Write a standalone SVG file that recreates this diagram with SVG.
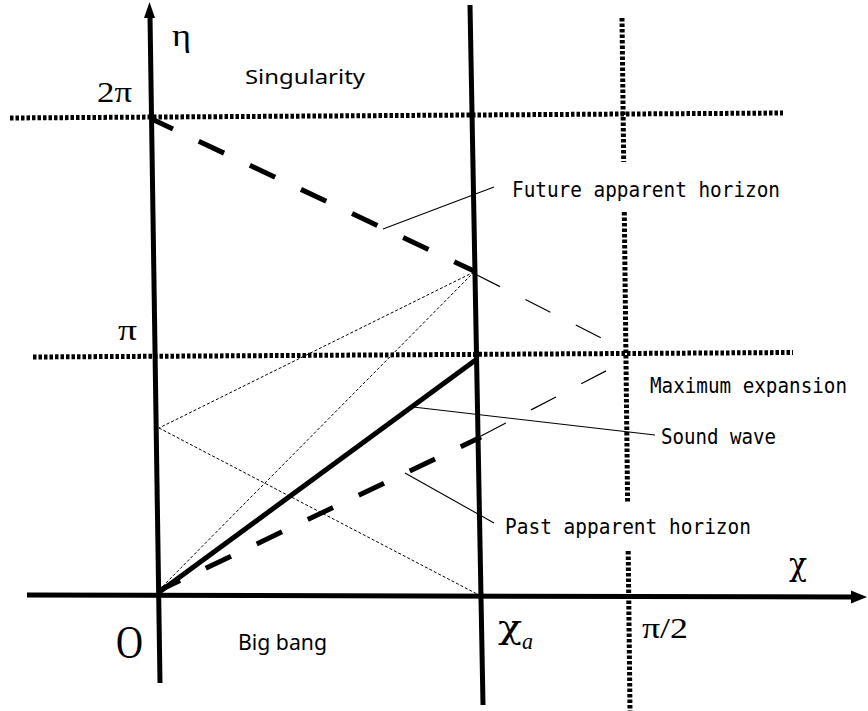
<svg xmlns="http://www.w3.org/2000/svg" width="868" height="711" viewBox="0 0 868 711">
<style>
.axis{stroke:#000;stroke-width:5;fill:none}
.dot{stroke:#000;stroke-width:5;stroke-dasharray:3.5 2;fill:none}
.thickdash{stroke:#000;stroke-width:5;stroke-dasharray:28 28.5;fill:none}
.thindash{stroke:#000;stroke-width:1.2;stroke-dasharray:28 28.5;fill:none}
.ray{stroke:#000;stroke-width:1;stroke-dasharray:3 2;fill:none}
.lead{stroke:#000;stroke-width:1.1;fill:none}
.solid{stroke:#000;stroke-width:5;fill:none}
.mono{font-family:'DejaVu Sans Mono','Liberation Mono',monospace;font-size:20.5px;fill:#000}
.sans{font-family:'Noto Sans','DejaVu Sans',sans-serif;fill:#000}
.serif{font-family:'Liberation Serif','Times New Roman',serif;fill:#000}
.greek{font-family:'DejaVu Serif',serif;fill:#000}
</style>
<rect width="868" height="711" fill="#fff"/>
<g id="grid">
<path class="dot" d="M10,118 L783,113"/>
<path class="dot" d="M33,357 L793,352.5"/>
<path class="dot" d="M622,18 L623.7,162"/>
<path class="dot" d="M624.3,212 L627.6,502"/>
<path class="dot" d="M628.2,551 L630,711"/>
</g>
<g id="axes">
<path class="axis" d="M160,683 L150,16"/>
<polygon points="149.5,2 144,18 155,18" fill="#000"/>
<path class="axis" d="M27,595 L853,597"/>
<polygon points="867,597 851,590.5 851,603.5" fill="#000"/>
<path class="axis" d="M470,5 L483,705"/>
</g>
<g id="connectors">
<path class="ray" d="M159,590 L474,272"/>
<path class="ray" d="M474,272 L159,428"/>
<path class="ray" d="M159,428 L479,595"/>
<path class="thickdash" style="stroke-dashoffset:4.5" d="M151.7,119 L474,271"/>
<path class="thindash" d="M475,274 L625,350"/>
<path class="thickdash" style="stroke-dashoffset:3.6" d="M158,591 L481,437"/>
<path class="thindash" d="M481,436 L625,361"/>
<path class="solid" d="M158,593 L477,359"/>
<path class="lead" d="M383,229 L494,187"/>
<path class="lead" d="M413,407 L655,435"/>
<path class="lead" d="M405,473 L494,523"/>
</g>
<g id="labels">
<text class="sans" x="245" y="83.5" font-size="20" textLength="120" lengthAdjust="spacingAndGlyphs">Singularity</text>
<text class="sans" x="238" y="650" font-size="22" textLength="89" lengthAdjust="spacingAndGlyphs">Big bang</text>
<text class="mono" x="512" y="196.5" textLength="268" lengthAdjust="spacingAndGlyphs">Future apparent horizon</text>
<text class="mono" x="650" y="392.5" textLength="197" lengthAdjust="spacingAndGlyphs">Maximum expansion</text>
<text class="mono" x="661" y="444" textLength="115" lengthAdjust="spacingAndGlyphs">Sound wave</text>
<text class="mono" x="505" y="534" textLength="246" lengthAdjust="spacingAndGlyphs">Past apparent horizon</text>
<text class="serif" x="172" y="46" font-size="32" textLength="19" lengthAdjust="spacingAndGlyphs">η</text>
<text class="serif" x="97" y="101.5" font-size="30" textLength="35" lengthAdjust="spacingAndGlyphs">2π</text>
<text class="serif" x="118" y="340" font-size="30" textLength="19" lengthAdjust="spacingAndGlyphs">π</text>
<text class="serif" x="116" y="658" font-size="46" textLength="27" lengthAdjust="spacingAndGlyphs">O</text>
<text class="greek" x="789" y="575" font-size="32" textLength="18" lengthAdjust="spacingAndGlyphs">χ</text>
<text class="greek" x="498" y="638" font-size="32" textLength="24" lengthAdjust="spacingAndGlyphs">χ</text>
<text class="serif" x="522" y="649" font-size="24" font-style="italic" textLength="11" lengthAdjust="spacingAndGlyphs">a</text>
<text class="serif" x="642" y="638" font-size="30" textLength="46" lengthAdjust="spacingAndGlyphs">π/2</text>
</g>
</svg>
